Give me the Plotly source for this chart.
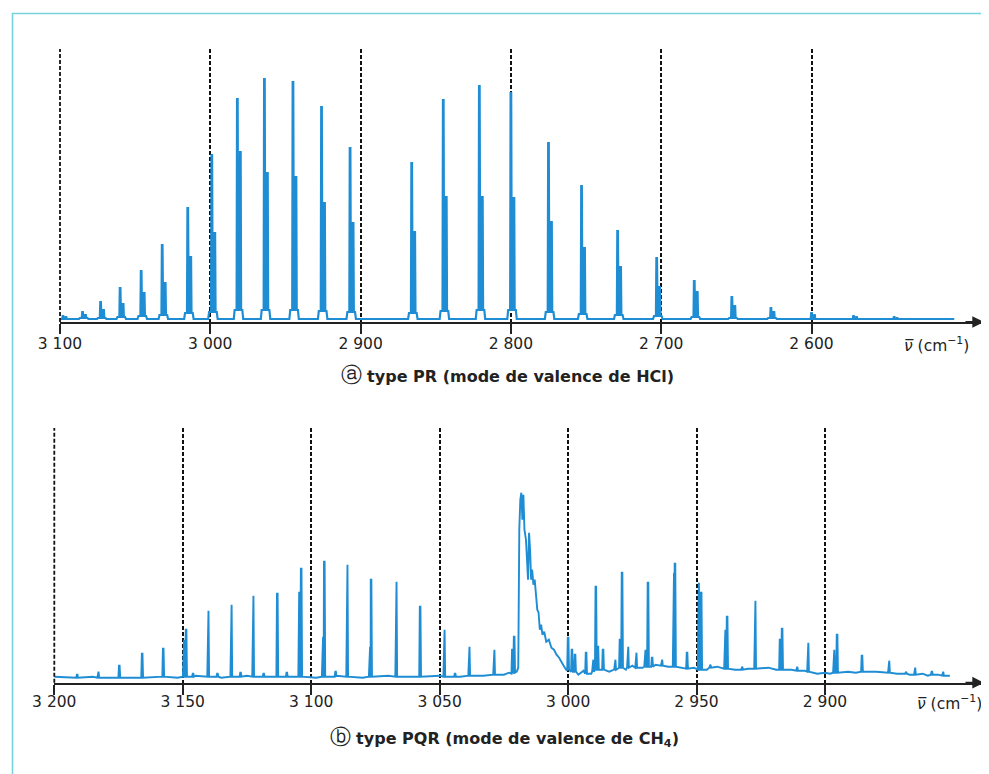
import plotly.graph_objects as go

# ---------------- data: (a) HCl stretching band (PR type) ----------------
hcl_nu35 = [3098, 3085, 3073, 3060, 3046, 3032, 3015, 2999, 2982, 2964, 2945, 2926, 2907,
            2866, 2845, 2821, 2800, 2775, 2753, 2729, 2703, 2678, 2653, 2627, 2600, 2572, 2545]
hcl_h35 = [3, 7, 17, 31, 48, 74, 111, 164, 220, 240, 237, 212, 171,
           156, 219, 233, 226, 176, 133, 88, 61, 38, 22, 11, 6, 3, 2]
hcl_h37 = [2, 4, 9, 15, 26, 36, 62, 86, 167, 146, 142, 116, 96,
           87, 122, 122, 121, 97, 71, 52, 32, 27, 13, 7, 4, 2, 1]
hcl_foot = [0, 1, 1, 2, 3, 4, 6, 7, 9, 9, 9, 8, 7,
            6, 8, 9, 9, 7, 5, 4, 3, 2, 1, 1, 0, 0, 0]
hcl_ticks = [3100, 3000, 2900, 2800, 2700, 2600]
hcl_ticktext = ["3 100", "3 000", "2 900", "2 800", "2 700", "2 600"]
hcl_start, hcl_end = 3100, 2505

# ---------------- data: (b) CH4 stretching band (PQR type) ----------------
ch4_peak_nu = [3191.1, 3182.9, 3174.7, 3165.8, 3157.6, 3149.6, 3148.7, 3146.0, 3140.1, 3136.5,
               3131.1, 3127.5, 3122.6, 3118.5, 3113.2, 3109.5, 3104.8, 3103.9, 3095.5, 3094.9,
               3090.5, 3086.0, 3077.2, 3076.7, 3066.9, 3057.6, 3048.2, 3044.0, 3038.5, 3028.8,
               3021.7, 3021.0,
               3000.0, 2998.5, 2997.3, 2993.0, 2990.3, 2989.2, 2988.4, 2986.4, 2981.7, 2979.8,
               2979.0, 2976.7, 2973.5, 2970.0, 2968.9, 2967.3, 2963.5, 2958.9, 2958.4, 2953.7,
               2949.2, 2948.2, 2944.7, 2938.9, 2938.1, 2932.3, 2927.2, 2917.5, 2916.7, 2910.9,
               2906.6, 2896.5, 2895.3, 2885.6, 2875.1, 2868.5, 2865.0, 2858.4, 2854.1]
ch4_peak_h = [5, 8, 14, 26, 31, 40, 50, 6, 69, 6,
              75, 7, 84, 6, 86, 7, 88, 111, 43, 118,
              8, 115, 33, 100, 98, 73, 50, 6, 33, 30,
              30, 43,
              42, 30, 25, 27, 20, 93, 33, 30, 20, 40,
              107, 33, 27, 30, 97, 22, 20, 107, 116, 27,
              97, 87, 15, 50, 63, 13, 79, 40, 51, 13,
              37, 30, 45, 24, 19, 8, 12, 8, 8]
ch4_peak_base = [2, 2, 2, 2, 3, 3, 3, 3, 3, 3,
                 3, 3, 3, 3, 3, 3, 3, 3, 3, 3,
                 3, 3, 3, 3, 3, 3, 3, 3, 4, 5,
                 6, 7,
                 10, 8, 8, 6, 8, 10, 10, 10, 10, 12,
                 12, 12, 12, 13, 13, 13, 14, 13, 13, 11,
                 10, 10, 12, 11, 11, 10, 11, 10, 10, 9,
                 8, 7, 7, 8, 7, 6, 5, 5, 4]
# background / Q-branch envelope
ch4_bg_nu = [3200, 3195, 3185, 3170, 3160, 3152, 3145, 3135, 3125, 3115, 3105, 3098, 3090,
             3080, 3070, 3060, 3050, 3042, 3033, 3025, 3023, 3020,
             3019.4, 3019.0, 3018.6, 3018.2, 3017.8, 3017.4, 3017.0, 3016.4, 3016.0, 3015.6,
             3015.2, 3014.8, 3014.4, 3014.0, 3013.5, 3013.0, 3012.5, 3012.0, 3011.5, 3011.0,
             3010.5, 3010.0, 3009.3, 3008.5, 3007.5, 3006.5, 3005.5, 3004.5, 3003.5, 3002.5,
             3001.5, 3000.5,
             2999.0, 2996.0, 2994.0, 2991.0, 2987.0, 2984.0, 2980.5, 2977.5, 2975.0, 2971.0,
             2966.0, 2961.0, 2956.0, 2951.0, 2946.0, 2942.0, 2935.0, 2930.0, 2922.0, 2919.0,
             2913.0, 2908.0, 2903.0, 2900.0, 2898.0, 2891.0, 2888.0, 2880.0, 2872.0, 2867.0,
             2862.0, 2860.0, 2856.0, 2851.4]
ch4_bg_abs = [3, 2, 3, 2, 3, 2, 4, 2, 4, 3, 4, 2, 4,
              2, 4, 3, 4, 3, 4, 5, 7, 8,
              12, 150, 180, 187, 160, 185, 150, 140, 120, 100,
              147, 130, 100, 110, 95, 100, 85, 70, 67, 50,
              55, 45, 48, 38, 40, 32, 30, 25, 22, 17,
              13, 9,
              8, 5, 9, 6, 10, 8, 12, 10, 14, 12,
              15, 13, 12, 12, 10, 13, 10, 11, 12, 10,
              10, 9, 6, 7, 6, 8, 7, 8, 6, 5,
              6, 4, 5, 4]
ch4_ticks = [3200, 3150, 3100, 3050, 3000, 2950, 2900]
ch4_ticktext = ["3 200", "3 150", "3 100", "3 050", "3 000", "2 950", "2 900"]

# ---------------- build line profiles ----------------
hx, hy = [hcl_start], [0]
for p, h, h2, f in zip(hcl_nu35, hcl_h35, hcl_h37, hcl_foot):
    prof = [(2.4, 0), (1.8, f), (0.5, f), (0.2, h), (-0.2, h), (-0.6, f),
            (-1.5, f), (-1.8, h2), (-2.2, h2), (-2.5, f), (-3.3, f), (-3.9, 0)]
    for dx, v in prof:
        hx.append(p + dx)
        hy.append(v)
hx.append(hcl_end)
hy.append(0)

pts = list(zip(ch4_bg_nu, ch4_bg_abs))
for p, h, b in zip(ch4_peak_nu, ch4_peak_h, ch4_peak_base):
    pts += [(p + 0.35, b), (p + 0.12, h), (p - 0.12, h), (p - 0.35, b)]
pts.sort(key=lambda t: -t[0])
cx = [t[0] for t in pts]
cy = [t[1] for t in pts]

# page body has an 8px margin: figure drawn 8px in from the window corner
OFF = 8
W, H = 989 - OFF, 774 - OFF
def px(x):
    return (x - OFF) / W
def py(y):
    return 1 - (y - OFF) / H

# panel frames (window pixels)
top_x0, top_y0, top_y1 = 60, 322, 49
bot_x0, bot_y0, bot_y1 = 54.3, 682.7, 428
x_end = 984

blue = "#1f8dd3"
fig = go.Figure()
fig.add_trace(go.Scatter(x=hx, y=hy, mode="lines", line=dict(color=blue, width=2.2),
                         xaxis="x", yaxis="y", hoverinfo="skip", showlegend=False))
fig.add_trace(go.Scatter(x=cx, y=cy, mode="lines", line=dict(color=blue, width=1.9),
                         xaxis="x2", yaxis="y2", hoverinfo="skip", showlegend=False))

tickfont = dict(family="DejaVu Sans", size=15.5, color="#222")
dash = "4px,2px"
gcol, gw = "#111", 1.8
common_x = dict(showline=True, linecolor="#222", linewidth=2, ticks="outside", ticklen=10,
                tickwidth=1.6, tickcolor="#222", tickfont=tickfont, showgrid=True,
                gridcolor=gcol, gridwidth=gw, griddash=dash, zeroline=False,
                fixedrange=True, automargin=False)
common_y = dict(visible=False, showgrid=False, zeroline=False, fixedrange=True,
                automargin=False)

fig.update_layout(
    template="none",
    width=W, height=H, autosize=False,
    margin=dict(l=0, r=0, t=0, b=0, pad=0),
    paper_bgcolor="white", plot_bgcolor="rgba(0,0,0,0)",
    xaxis=dict(domain=[px(top_x0), px(x_end)], range=[3100, 3100 - (x_end - top_x0) / 1.503],
               tickvals=hcl_ticks, ticktext=hcl_ticktext, anchor="y",
               ticklabelstandoff=-4, **common_x),
    yaxis=dict(domain=[py(top_y0), py(top_y1)], range=[-3, 270], anchor="x", **common_y),
    xaxis2=dict(domain=[px(bot_x0), px(x_end)], range=[3200, 3200 - (x_end - bot_x0) / 2.569],
                tickvals=ch4_ticks, ticktext=ch4_ticktext, anchor="y2",
                ticklabelstandoff=-6, **common_x),
    yaxis2=dict(domain=[py(bot_y0), py(bot_y1)], range=[-3, 251.7], anchor="x2", **common_y),
)

# dashed line at the left edge of each panel (gridline there is hidden by the plot edge)
for x0, y0, y1 in ((top_x0, top_y0, top_y1), (bot_x0, bot_y0, bot_y1)):
    fig.add_shape(type="line", xref="paper", yref="paper", x0=px(x0), x1=px(x0),
                  y0=py(y0), y1=py(y1), line=dict(color=gcol, width=gw, dash=dash))

ann = []
for yl in (top_y0, bot_y0):
    ann.append(dict(x=px(x_end), y=py(yl), xref="paper", yref="paper", ax=-20, ay=0,
                    axref="pixel", ayref="pixel", text="", showarrow=True, arrowhead=2,
                    arrowsize=1.3, arrowwidth=1.8, arrowcolor="#222"))
for xt, yt in ((936, 344), (949, 702)):
    ann.append(dict(x=px(xt), y=py(yt), xref="paper", yref="paper", showarrow=False,
                    xanchor="center", yanchor="middle",
                    text="<i>ν\u0305</i> (cm<sup>−1</sup>)", font=tickfont))
capfont = dict(family="DejaVu Sans", size=16, color="#222")
circ = '<span style="font-size:21px">%s</span>'
ann.append(dict(x=px(507), y=py(375), xref="paper", yref="paper", showarrow=False,
                xanchor="center", yanchor="middle",
                text=circ % "ⓐ" + " <b>type PR (mode de valence de HCl)</b>", font=capfont))
ann.append(dict(x=px(505), y=py(737), xref="paper", yref="paper", showarrow=False,
                xanchor="center", yanchor="middle",
                text=circ % "ⓑ" + " <b>type PQR (mode de valence de CH<sub>4</sub>)</b>",
                font=capfont))
fig.update_layout(annotations=ann)

fig.add_shape(type="path", xref="paper", yref="paper",
              path=f"M {px(12.5)} 0 L {px(12.5)} {py(13.5)} L 1 {py(13.5)}",
              line=dict(color="#74d4dc", width=1.6))

fig.write_html("out.html")
